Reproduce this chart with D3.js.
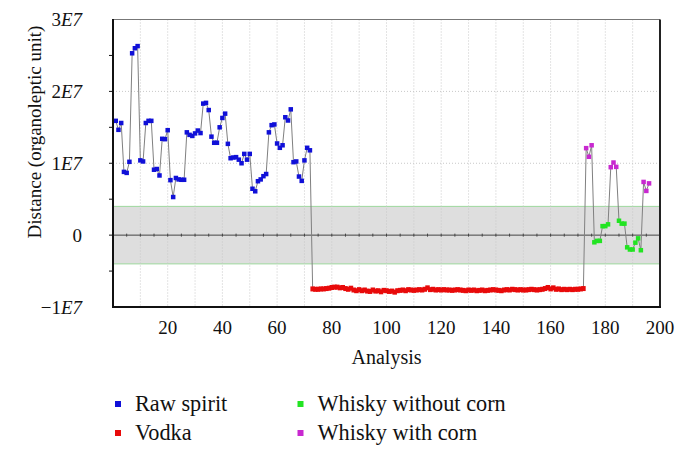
<!DOCTYPE html>
<html><head><meta charset="utf-8">
<script src="https://cdn.jsdelivr.net/npm/d3@7"></script>
<style>body{margin:0;background:#fff}svg{display:block}</style>
</head><body>
<script>
// values in millions (1E7 = 10)
const rawX = d3.range(1, 73);
const rawSpirit = [15.9,14.65,15.6,8.8,8.66,10.2,25.3,26.0,26.3,10.4,10.25,15.6,15.9,15.9,9.1,9.2,8.3,13.4,13.35,14.6,
  7.65,5.3,7.95,7.75,7.7,7.7,14.3,13.95,13.8,14.15,14.55,14.2,18.3,18.4,17.4,13.7,12.85,12.85,15.0,16.3,
  16.9,12.7,10.7,10.8,10.85,10.5,10.0,11.3,10.5,11.3,6.45,6.1,7.5,7.75,8.2,8.5,14.3,15.3,15.4,12.75,
  12.15,12.5,16.4,15.95,17.5,10.15,10.25,8.15,7.55,10.4,12.15,11.8];
const vodkaX = d3.range(73, 173);
const vodka = [-7.45,-7.5,-7.5,-7.45,-7.45,-7.4,-7.35,
  -7.25,-7.2,-7.2,-7.3,-7.25,
  -7.4,-7.5,-7.35,-7.6,-7.7,-7.55,
  -7.7,-7.6,-7.75,-7.8,-7.6,-7.75,-7.7,-7.85,-7.65,-7.7,
  -7.8,-7.75,-7.9,-7.7,-7.65,-7.6,-7.7,-7.55,-7.6,-7.65,
  -7.6,-7.55,-7.6,-7.5,-7.3,-7.55,-7.5,-7.6,-7.55,-7.6,
  -7.55,-7.6,-7.6,-7.65,-7.6,-7.55,-7.6,-7.65,-7.7,-7.6,
  -7.65,-7.6,-7.7,-7.65,-7.6,-7.7,-7.65,-7.6,-7.55,-7.6,
  -7.65,-7.7,-7.6,-7.55,-7.6,-7.5,-7.55,-7.6,-7.55,-7.6,
  -7.6,-7.55,-7.5,-7.55,-7.6,-7.55,-7.5,-7.4,-7.25,-7.45,
  -7.3,-7.5,-7.45,-7.55,-7.5,-7.55,-7.5,-7.55,-7.5,-7.5,-7.45,-7.4];
const noCornX = [176,177,178,179,180,181,185,186,187,188,189,190,191,192,193];
const noCorn = [-1.0,-0.8,-0.8,1.25,1.25,1.5,2.0,1.6,1.6,-1.7,-2.0,-2.0,-1.05,-0.45,-2.1];
const cornX = [173,174,175,182,183,184,194,195,196];
const corn = [12.1,10.9,12.5,9.45,10.1,9.5,7.4,6.15,7.2];
const yTicks = [30,20,10,0,-10];
const yTickLabels = [["3","E7"],["2","E7"],["1","E7"],["0",""],["\u22121","E7"]];
const xTicks = [20,40,60,80,100,120,140,160,180,200];
const seriesNames = ["Raw spirit","Vodka","Whisky without corn","Whisky with corn"];
const seriesColors = ["#1010d8","#e80a0a","#22e422","#c828d0"];

const FONT = "'Liberation Serif','DejaVu Serif','Times New Roman',serif";
const W=689,H=456, L=113,R=660,T=19.5,B=307;
const svg=d3.select("body").append("svg").attr("width",W).attr("height",H)
  .attr("font-family",FONT).style("font-family",FONT);
const x=d3.scaleLinear().domain([0,200]).range([L,R]);
const y=d3.scaleLinear().domain([-10,30]).range([B,T]);

// band
svg.append("rect").attr("x",L).attr("width",R-L).attr("y",y(4)).attr("height",y(-4)-y(4)).attr("fill","#dedede");
[4,-4].forEach(v=>svg.append("line").attr("x1",L).attr("x2",R).attr("y1",y(v)).attr("y2",y(v)).attr("stroke","#9ed89e").attr("stroke-width",1));
// grid
svg.append("g").selectAll("line").data(d3.range(10,200,10)).join("line")
 .attr("x1",d=>x(d)).attr("x2",d=>x(d)).attr("y1",T).attr("y2",B)
 .attr("stroke","#c8c8c8").attr("stroke-width",1).attr("stroke-dasharray","1,2");
svg.append("g").selectAll("line").data([10,20]).join("line")
 .attr("x1",L).attr("x2",R).attr("y1",d=>y(d)).attr("y2",d=>y(d))
 .attr("stroke","#c8c8c8").attr("stroke-width",1).attr("stroke-dasharray","1,2");
// zero line + small ticks
svg.append("line").attr("x1",L).attr("x2",R).attr("y1",y(0)).attr("y2",y(0)).attr("stroke","#444");
svg.append("g").selectAll("line").data(d3.range(5,200,5)).join("line")
 .attr("x1",d=>x(d)).attr("x2",d=>x(d)).attr("y1",y(0)-1.5).attr("y2",y(0)+1.5).attr("stroke","#444");

// data line
const all=[];
rawX.forEach((d,i)=>all.push({x:d,v:rawSpirit[i],s:0}));
vodkaX.forEach((d,i)=>all.push({x:d,v:vodka[i],s:1}));
noCornX.forEach((d,i)=>all.push({x:d,v:noCorn[i],s:2}));
cornX.forEach((d,i)=>all.push({x:d,v:corn[i],s:3}));
all.sort((a,b)=>a.x-b.x);
svg.append("path").attr("d",d3.line().x(d=>x(d.x)).y(d=>y(d.v))(all))
 .attr("fill","none").attr("stroke","#808080").attr("stroke-width",1);
const ms=4.5;
svg.append("g").selectAll("rect").data(all).join("rect")
 .attr("x",d=>x(d.x)-ms/2).attr("y",d=>y(d.v)-ms/2).attr("width",ms).attr("height",d=>d.s===1?ms+0.5:ms)
 .attr("fill",d=>seriesColors[d.s]);

// frame
svg.append("line").attr("x1",L).attr("x2",R).attr("y1",T).attr("y2",T).attr("stroke","#777").attr("stroke-width",1.2);
svg.append("line").attr("x1",R).attr("x2",R).attr("y1",T).attr("y2",B).attr("stroke","#222").attr("stroke-width",2);
svg.append("line").attr("x1",L).attr("x2",L).attr("y1",T-0.5).attr("y2",B+1).attr("stroke","#111").attr("stroke-width",2);
svg.append("line").attr("x1",L-1).attr("x2",R+1).attr("y1",B).attr("y2",B).attr("stroke","#111").attr("stroke-width",2);
// y minor ticks
svg.append("g").selectAll("line").data(d3.range(-5,30,5)).join("line")
 .attr("x1",L-4).attr("x2",L).attr("y1",d=>y(d)).attr("y2",d=>y(d)).attr("stroke","#111");

// y tick labels
const yl=svg.append("g").selectAll("text").data(yTicks).join("text")
 .attr("x",82).attr("y",d=>y(d)).attr("dy","0.35em").attr("text-anchor","end").attr("font-size",19).attr("fill","#111");
yl.each(function(d,i){
  const t=d3.select(this);
  t.append("tspan").text(yTickLabels[i][0]);
  if(yTickLabels[i][1]) t.append("tspan").attr("font-style","italic").text(yTickLabels[i][1]);
});
// x tick labels
svg.append("g").selectAll("text").data(xTicks).join("text")
 .attr("x",d=>x(d)).attr("y",334).attr("text-anchor","middle").attr("font-size",19).attr("fill","#111").text(d=>d);
// titles
svg.append("text").attr("x",(L+R)/2).attr("y",364).attr("text-anchor","middle").attr("font-size",20).attr("fill","#111").text("Analysis");
svg.append("text").attr("transform","translate(41,132) rotate(-90)").attr("text-anchor","middle").attr("font-size",19).attr("fill","#111").text("Distance (organoleptic unit)");

// legend
const lp=[[118,404],[118,433],[300.5,404],[300.5,433]];
const lg=svg.append("g").selectAll("g").data(seriesNames).join("g").attr("transform",(d,i)=>`translate(${lp[i][0]},${lp[i][1]})`);
lg.append("rect").attr("x",-3).attr("y",-3).attr("width",6).attr("height",6).attr("fill",(d,i)=>seriesColors[i]);
lg.append("text").attr("x",17).attr("y",7).attr("font-size",22.3).attr("fill","#111").text(d=>d);
</script>
</body></html>
